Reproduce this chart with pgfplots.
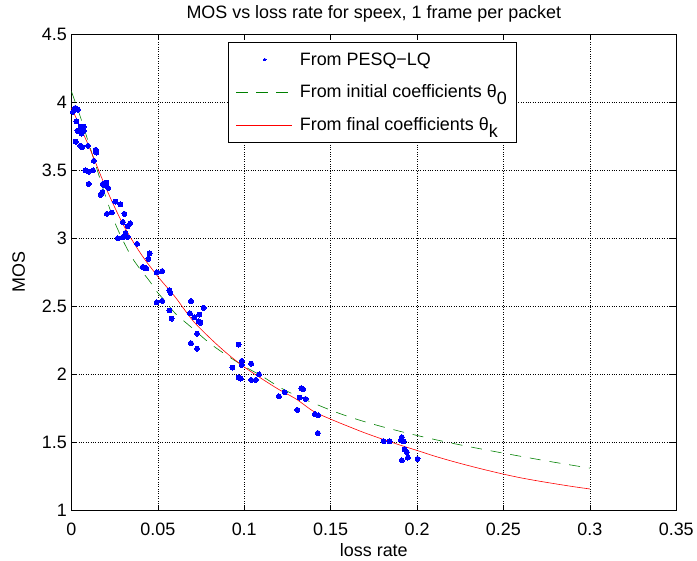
\documentclass[border=0pt]{standalone}
\usepackage{pgfplots}
\pgfplotsset{compat=1.18}
\usepackage{fontspec}
\setmainfont{Liberation Sans}
\definecolor{mgreen}{rgb}{0,0.5,0}
\definecolor{mred}{rgb}{1,0,0}
\begin{document}
\begin{tikzpicture}[x=1pt,y=1pt]
\begin{axis}[
  scale only axis,
  width=607.3pt, height=478.4pt,
  xmin=0, xmax=0.35, ymin=1, ymax=4.5,
  xtick={0,0.05,0.1,0.15,0.2,0.25,0.3,0.35},
  ytick={1,1.5,2,2.5,3,3.5,4,4.5},
  /pgf/number format/assume math mode=true,
  /pgf/number format/fixed,
  /pgf/number format/precision=2,
  scaled ticks=false,
  tick align=inside,
  major tick length=6pt,
  tick style={black, line width=0.5pt},
  axis line style={black, line width=0.6pt},
  grid=major,
  major grid style={black, dotted, line width=0.5pt},
  ticklabel style={font=\fontsize{18}{21}\selectfont},
  xticklabel style={yshift=-9pt},
  yticklabel style={xshift=-1pt},
  title={MOS vs loss rate for speex, 1 frame per packet},
  title style={font=\fontsize{18}{21}\selectfont, yshift=2pt},
  xlabel={loss rate},
  ylabel={MOS},
  label style={font=\fontsize{18}{21}\selectfont},
  xlabel style={yshift=-1pt},
  ylabel style={yshift=10pt},
  legend style={at={(0.4975,0.983)}, anchor=north, draw=black, line width=0.6pt,
    font=\fontsize{18}{21}\selectfont, row sep=14.5pt, inner xsep=8pt, inner ysep=8pt,
    cells={anchor=west}, /tikz/every odd column/.append style={column sep=5pt}},
  legend cell align=left,
]
\addplot[only marks, mark=*, mark size=2.5pt, color=blue, line width=0pt,
  legend image code/.code={\fill[blue] (1.0cm,0cm) circle (1.4pt);}]
coordinates {
(0.0023,3.958) (0.0038,3.946) (0.0009,3.929) (0.0029,3.86) (0.0054,3.82)
(0.0071,3.82) (0.0063,3.81) (0.0035,3.79) (0.0071,3.79) (0.0059,3.77)
(0.0025,3.71) (0.0052,3.68) (0.0063,3.67) (0.0096,3.68) (0.0140,3.65)
(0.0144,3.63) (0.0130,3.57) (0.0125,3.50) (0.0081,3.50) (0.0100,3.49)
(0.0100,3.40) (0.0202,3.41) (0.0182,3.40) (0.0192,3.39) (0.0169,3.32)
(0.0179,3.34) (0.0213,3.37) (0.0254,3.27) (0.0283,3.25) (0.0234,3.19)
(0.0205,3.18) (0.0307,3.18) (0.0298,3.12) (0.0340,3.11) (0.0326,3.09)
(0.0313,3.04) (0.0269,3.00) (0.0298,3.01) (0.0326,3.01) (0.0380,2.96)
(0.0452,2.89) (0.0446,2.85) (0.0413,2.79) (0.0427,2.78) (0.0433,2.78)
(0.0494,2.75) (0.0525,2.76) (0.0567,2.62) (0.0573,2.60) (0.0494,2.53)
(0.0525,2.54) (0.0692,2.54) (0.0765,2.49) (0.0567,2.47) (0.0686,2.45)
(0.0740,2.44) (0.0580,2.41) (0.0711,2.42) (0.0736,2.39) (0.0747,2.38)
(0.0727,2.30) (0.0692,2.23) (0.0727,2.19) (0.0967,2.22) (0.0932,2.05)
(0.0986,2.10) (0.0986,2.07) (0.1040,2.08) (0.0967,1.98) (0.0980,1.97)
(0.1086,2.00) (0.1040,1.96) (0.1067,1.96) (0.1201,1.84) (0.1234,1.87)
(0.1330,1.90) (0.1341,1.89) (0.1321,1.83) (0.1355,1.82) (0.1307,1.74)
(0.1409,1.71) (0.1428,1.70) (0.1426,1.57) (0.1807,1.51) (0.1841,1.51)
(0.1912,1.54) (0.1907,1.52) (0.1922,1.51) (0.1928,1.45) (0.1941,1.43)
(0.1947,1.39) (0.1912,1.37) (0.2003,1.38)
};
\addlegendentry{From PESQ−LQ}
\addplot[color=mgreen, dash pattern=on 11pt off 9pt, line width=0.6pt, smooth,
  legend image code/.code={\draw[draw=mgreen, line width=0.6pt, dash pattern=on 12pt off 8pt] (0cm,0cm) -- (1.98cm,0cm);}]
coordinates {
(0,4.08) (0.005,3.90) (0.01,3.70) (0.015,3.50) (0.02,3.30) (0.025,3.12)
(0.03,2.98) (0.035,2.86) (0.04,2.77) (0.045,2.69) (0.05,2.60) (0.055,2.53)
(0.06,2.45) (0.07,2.34) (0.08,2.23) (0.09,2.14) (0.10,2.06) (0.11,1.99)
(0.12,1.91) (0.13,1.845) (0.14,1.79) (0.15,1.738) (0.16,1.692) (0.17,1.652)
(0.18,1.616) (0.19,1.583) (0.20,1.552) (0.21,1.523) (0.22,1.496) (0.23,1.470)
(0.24,1.446) (0.25,1.422) (0.26,1.399) (0.27,1.376) (0.28,1.354) (0.29,1.333)
(0.30,1.312)
};
\addlegendentry{From initial coefficients θ\raisebox{-0.7ex}{0}}
\addplot[color=mred, line width=0.6pt, smooth,
  legend image code/.code={\path[draw=mred, line width=0.9pt, solid] (0cm,0cm) -- (1.98cm,0cm);}]
coordinates {
(0,3.96) (0.01,3.68) (0.02,3.37) (0.03,3.10) (0.04,2.89) (0.05,2.72)
(0.06,2.57) (0.07,2.40) (0.08,2.27) (0.09,2.155) (0.10,2.055) (0.11,1.97)
(0.12,1.89) (0.13,1.82) (0.14,1.73) (0.15,1.672) (0.16,1.62) (0.17,1.57)
(0.18,1.525) (0.19,1.482) (0.20,1.442) (0.21,1.401) (0.22,1.364) (0.23,1.330)
(0.24,1.298) (0.25,1.268) (0.26,1.241) (0.27,1.218) (0.28,1.197) (0.29,1.177)
(0.30,1.159)
};
\addlegendentry{From final coefficients θ\raisebox{-0.7ex}{k}}
\end{axis}
\useasboundingbox (-71.7,-50.3) rectangle (625.3,512.7);
\end{tikzpicture}
\end{document}
